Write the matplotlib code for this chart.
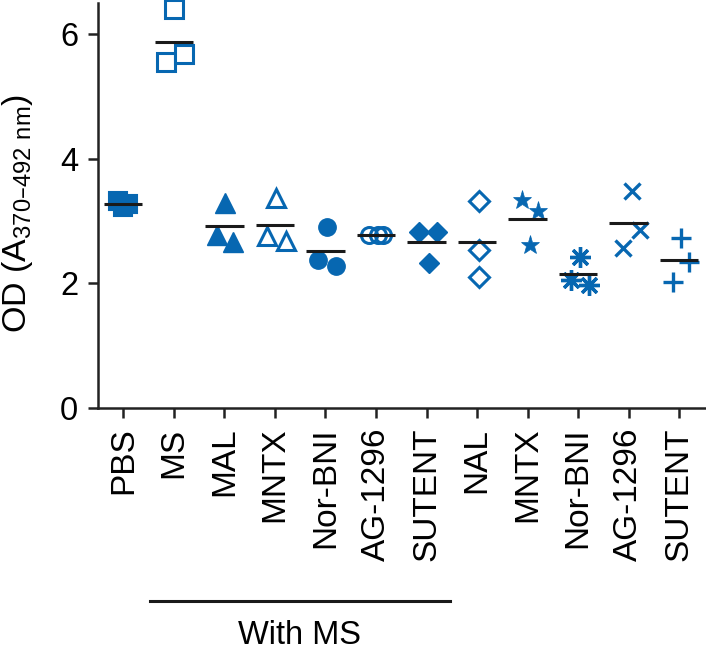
import matplotlib
matplotlib.use("Agg")
import matplotlib.pyplot as plt
from matplotlib.lines import Line2D

plt.rcParams['font.family'] = ['Liberation Sans', 'DejaVu Sans']
plt.rcParams['mathtext.default'] = 'regular'

categories = ["PBS", "MS", "MAL", "MNTX", "Nor-BNI", "AG-1296", "SUTENT",
              "NAL", "MNTX", "Nor-BNI", "AG-1296", "SUTENT"]
pbs = [3.33, 3.28, 3.22]
ms = [6.40, 5.56, 5.68]
ms_mal = [3.29, 2.78, 2.67]
ms_mntx = [3.37, 2.76, 2.68]
ms_norbni = [2.91, 2.38, 2.28]
ms_ag1296 = [2.78, 2.78, 2.78]
ms_sutent = [2.83, 2.83, 2.32]
nal = [3.33, 2.54, 2.11]
mntx = [3.34, 3.16, 2.62]
norbni = [2.42, 2.06, 1.98]
ag1296 = [3.48, 2.86, 2.57]
sutent = [2.73, 2.35, 2.03]
yticks = [0, 2, 4, 6]
group_label = "With MS"
ylabel = 'OD (A$_{370–492\\ nm}$)'

series = [pbs, ms, ms_mal, ms_mntx, ms_norbni, ms_ag1296, ms_sutent,
          nal, mntx, norbni, ag1296, sutent]

# layout: horizontal jitter of the three points in each group
jitter = [[-0.1, 0.1, 0.0], [0.0, -0.16, 0.2], [0.02, -0.15, 0.18],
          [0.03, -0.15, 0.21], [0.04, -0.14, 0.2], [-0.13, 0.04, 0.14],
          [-0.14, 0.2, 0.04], [0.03, 0.03, 0.03], [-0.12, 0.2, 0.04],
          [0.04, -0.14, 0.22], [0.06, 0.22, -0.12], [0.04, 0.2, -0.12]]

blue = "#0767b1"
styles = [
    dict(marker='s', ms=13, mfc=blue, mec=blue, mew=1.5),
    dict(marker='s', ms=12.5, mfc='white', mec=blue, mew=2.2),
    dict(marker='^', ms=14, mfc=blue, mec=blue, mew=1),
    dict(marker='^', ms=13, mfc='white', mec=blue, mew=2.2),
    dict(marker='o', ms=12.5, mfc=blue, mec=blue, mew=1),
    dict(marker='o', ms=11.5, mfc='none', mec=blue, mew=2.2),
    dict(marker='D', ms=10.5, mfc=blue, mec=blue, mew=1),
    dict(marker='D', ms=10, mfc='white', mec=blue, mew=2.2),
    dict(marker='*', ms=14, mfc=blue, mec=blue, mew=0.5),
    dict(marker=(8, 2, 0), ms=15, mfc=blue, mec=blue, mew=2.4),
    dict(marker='x', ms=11, mfc=blue, mec=blue, mew=2.4),
    dict(marker='+', ms=15, mfc=blue, mec=blue, mew=2.4),
]

fig = plt.figure(figsize=(7.06, 6.53), dpi=100)
ax = fig.add_axes([98 / 706, 1 - 408 / 653, (706 - 98) / 706, (408 - 3) / 653])

for i, (vals, jit, st) in enumerate(zip(series, jitter, styles)):
    xs = [i + j for j in jit]
    ax.plot(xs, vals, linestyle='none', zorder=3, clip_on=False, **st)
    m = sum(vals) / len(vals)
    ax.plot([i - 0.38, i + 0.38], [m, m], color='#1a1a1a', lw=2.2, zorder=4,
            solid_capstyle='butt')

ax.set_xlim(-0.5, 11.53)
ax.set_ylim(0, 6.5)
ax.set_xticks(range(len(categories)))
ax.set_xticklabels(categories, rotation=90, fontsize=24)
ax.set_yticks(yticks)
ax.set_yticklabels([str(t) for t in yticks], fontsize=23.5)
ax.tick_params(axis='both', length=7.2, width=1.8, color='#222222', pad=7)
for s in ['top', 'right']:
    ax.spines[s].set_visible(False)
for s in ['left', 'bottom']:
    ax.spines[s].set_linewidth(1.8)
    ax.spines[s].set_color('#222222')

ax.set_ylabel(ylabel, fontsize=24.5)
ax.yaxis.set_label_coords(-0.103, 0.48)

# group bracket
fig.add_artist(Line2D([150 / 706, 450 / 706], [1 - 601 / 653, 1 - 601 / 653],
                      color='#1a1a1a', lw=2.2, transform=fig.transFigure))
fig.text(300 / 706, 1 - 635 / 653, group_label, ha='center', va='center', fontsize=23.5)

fig.savefig("out.png", dpi=100)
